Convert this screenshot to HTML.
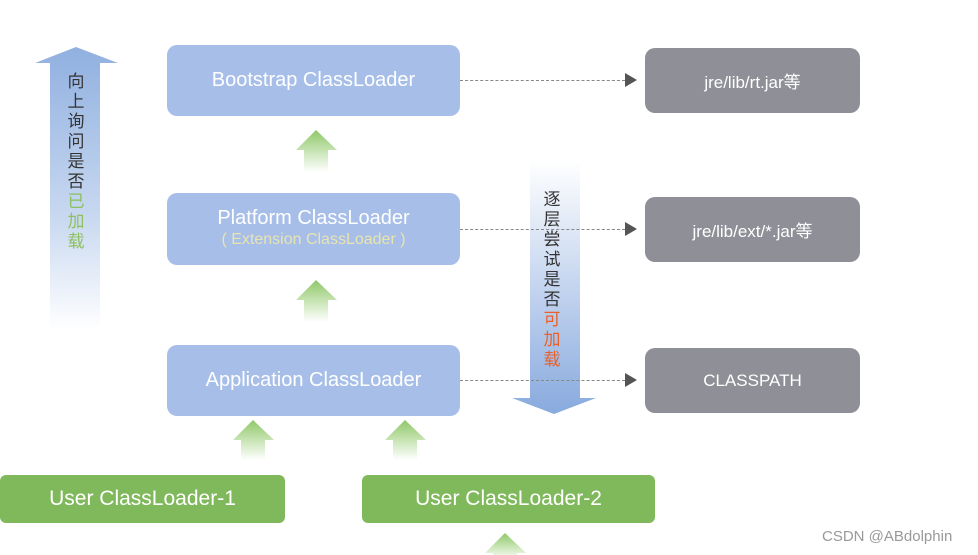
<!DOCTYPE html><html><head><meta charset="utf-8"><style>
body{margin:0;width:978px;height:555px;background:#fff;position:relative;overflow:hidden;font-family:"Liberation Sans","Noto Sans CJK SC",sans-serif}
.b{position:absolute;border-radius:10px;color:#fff;text-align:center;display:flex;flex-direction:column;justify-content:center}
.blue{background:#a7bfe8;font-size:20px}
.gray{background:#8f8f97;font-size:17px}
.green{background:#80b95c;font-size:21px;border-radius:6px}
.dl{position:absolute;border-top:1px dashed #888;height:0}
.ah{position:absolute;width:0;height:0;border-top:7px solid transparent;border-bottom:7px solid transparent;border-left:12px solid #555}
.vt{position:absolute;font-size:17px;line-height:20px;width:20px;text-align:center;color:#333}
</style></head><body>
<svg width="978" height="555" style="position:absolute;left:0;top:0">
<defs>
<linearGradient id="up" x1="0" y1="0" x2="0" y2="1"><stop offset="0" stop-color="#90b0e0"/><stop offset="0.6" stop-color="#c8d8f0"/><stop offset="1" stop-color="#fff"/></linearGradient>
<linearGradient id="dn" x1="0" y1="0" x2="0" y2="1"><stop offset="0" stop-color="#fff"/><stop offset="0.4" stop-color="#d0ddf2"/><stop offset="1" stop-color="#88aade"/></linearGradient>
<linearGradient id="g" x1="0" y1="0" x2="0" y2="1"><stop offset="0" stop-color="#8fc868"/><stop offset="1" stop-color="#fff"/></linearGradient>
</defs>
<polygon points="35,63 76,47 118,63 100,63 100,330 50,330 50,63" fill="url(#up)"/>
<polygon points="530,160 580,160 580,398 596,398 554,414 512,398 530,398" fill="url(#dn)"/>
<g fill="url(#g)">
<polygon points="296,150 316,130 337,150 328,150 328,172 304,172 304,150"/>
<polygon points="296,300 316,280 337,300 328,300 328,322 304,322 304,300"/>
<polygon points="233,440 253,420 274,440 265,440 265,460 241,460 241,440"/>
<polygon points="385,440 405,420 426,440 417,440 417,460 393,460 393,440"/>
<polygon points="485,553 505,533 526,553 517,553 517,560 493,560 493,553"/>
</g>
</svg>
<div class="b blue" style="left:167px;top:45px;width:293px;height:71px">Bootstrap ClassLoader</div>
<div class="b blue" style="left:167px;top:193px;width:293px;height:72px;line-height:22px">Platform ClassLoader<span style="font-size:16px;color:#e8e4b0">( Extension ClassLoader )</span></div>
<div class="b blue" style="left:167px;top:345px;width:293px;height:71px">Application ClassLoader</div>
<div class="b gray" style="left:645px;top:48px;width:215px;height:65px">jre/lib/rt.jar等</div>
<div class="b gray" style="left:645px;top:197px;width:215px;height:65px">jre/lib/ext/*.jar等</div>
<div class="b gray" style="left:645px;top:348px;width:215px;height:65px">CLASSPATH</div>
<div class="b green" style="left:0;top:475px;width:285px;height:48px">User ClassLoader-1</div>
<div class="b green" style="left:362px;top:475px;width:293px;height:48px">User ClassLoader-2</div>
<div class="dl" style="left:460px;top:80px;width:165px"></div><div class="ah" style="left:625px;top:73px"></div>
<div class="dl" style="left:460px;top:229px;width:165px"></div><div class="ah" style="left:625px;top:222px"></div>
<div class="dl" style="left:460px;top:380px;width:165px"></div><div class="ah" style="left:625px;top:373px"></div>
<div class="vt" style="left:66px;top:72px">向上询问是否<span style="color:#8cc060">已加载</span></div>
<div class="vt" style="left:542px;top:190px">逐层尝试是否<span style="color:#e8602a">可加载</span></div>
<div style="position:absolute;left:822px;top:528px;font-size:15px;color:#999">CSDN @ABdolphin</div>
</body></html>
